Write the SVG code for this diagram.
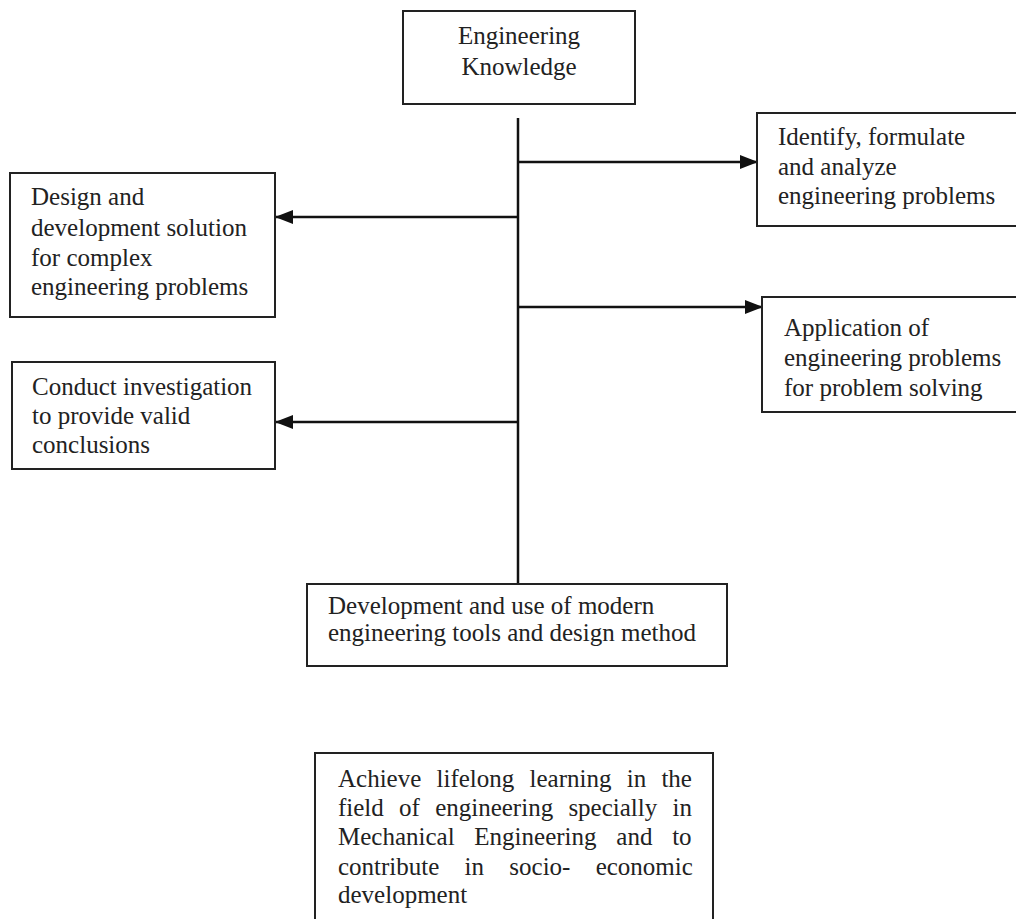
<svg xmlns="http://www.w3.org/2000/svg" width="1016" height="919" viewBox="0 0 1016 919">
<style>
.box{fill:#fff;stroke:#222;stroke-width:2}
.t{font-family:"Liberation Serif","Times New Roman",serif;font-size:25px;fill:#222}
.c{fill:none;stroke:#111;stroke-width:2.5}
</style>
<defs>
<marker id="ah" markerUnits="userSpaceOnUse" markerWidth="18" markerHeight="14" refX="17" refY="7" orient="auto">
<path d="M0,0 L18,7 L0,14 Z" fill="#111"/>
</marker>
</defs>
<rect width="1016" height="919" fill="#fff"/>
<g id="connectors">
<line class="c" x1="518" y1="118" x2="518" y2="584"/>
<line class="c" x1="518" y1="162" x2="757" y2="162" marker-end="url(#ah)"/>
<line class="c" x1="518" y1="217" x2="276" y2="217" marker-end="url(#ah)"/>
<line class="c" x1="518" y1="307" x2="762" y2="307" marker-end="url(#ah)"/>
<line class="c" x1="518" y1="422" x2="276" y2="422" marker-end="url(#ah)"/>
</g>
<g id="n-knowledge">
<rect class="box" x="403" y="11" width="232" height="93"/>
<text class="t" x="519" y="44" text-anchor="middle">Engineering</text>
<text class="t" x="519" y="75" text-anchor="middle">Knowledge</text>
</g>
<g id="n-identify">
<rect class="box" x="757" y="113" width="270" height="113"/>
<text class="t" x="778" y="145">Identify, formulate</text>
<text class="t" x="778" y="175">and analyze</text>
<text class="t" x="778" y="204">engineering problems</text>
</g>
<g id="n-design">
<rect class="box" x="10" y="173" width="265" height="144"/>
<text class="t" x="31" y="205">Design and</text>
<text class="t" x="31" y="236">development solution</text>
<text class="t" x="31" y="266">for complex</text>
<text class="t" x="31" y="295">engineering problems</text>
</g>
<g id="n-application">
<rect class="box" x="762" y="297" width="265" height="115"/>
<text class="t" x="784" y="336">Application of</text>
<text class="t" x="784" y="366">engineering problems</text>
<text class="t" x="784" y="396">for problem solving</text>
</g>
<g id="n-conduct">
<rect class="box" x="12" y="362" width="263" height="107"/>
<text class="t" x="32" y="395">Conduct investigation</text>
<text class="t" x="32" y="424">to provide valid</text>
<text class="t" x="32" y="453">conclusions</text>
</g>
<g id="n-tools">
<rect class="box" x="307" y="584" width="420" height="82"/>
<text class="t" x="328" y="614">Development and use of modern</text>
<text class="t" x="328" y="641">engineering tools and design method</text>
</g>
<g id="n-lifelong">
<rect class="box" x="315" y="753" width="398" height="180"/>
<text class="t" x="338" y="787" word-spacing="9">Achieve lifelong learning in the</text>
<text class="t" x="338" y="816" word-spacing="9">field of engineering specially in</text>
<text class="t" x="338" y="845" word-spacing="13.5">Mechanical Engineering and to</text>
<text class="t" x="338" y="875" word-spacing="19">contribute in socio- economic</text>
<text class="t" x="338" y="903">development</text>
</g>
</svg>
